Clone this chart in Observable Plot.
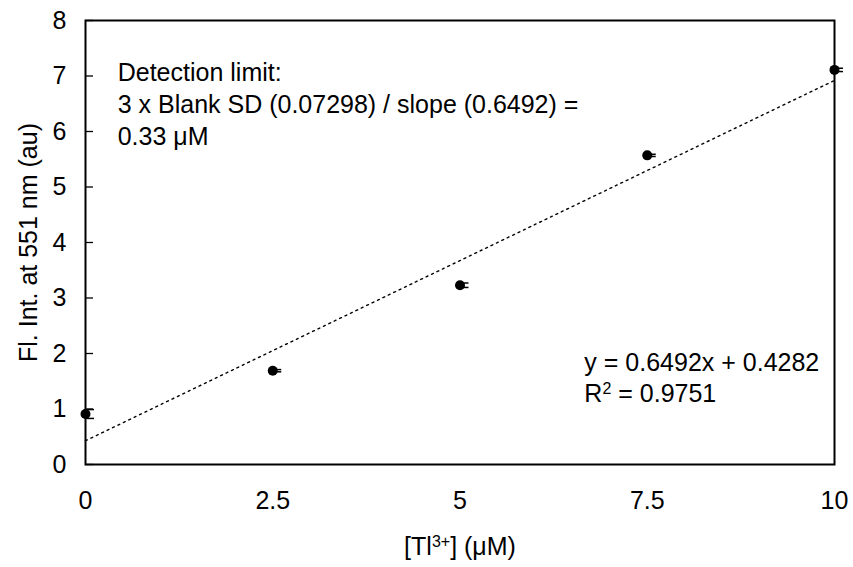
<!DOCTYPE html>
<html><head><meta charset="utf-8">
<script src="https://cdn.jsdelivr.net/npm/d3@7"></script>
<script src="https://cdn.jsdelivr.net/npm/@observablehq/plot@0.6"></script>
<style>
body{margin:0;background:#fff;}
svg{font-family:"Liberation Sans", Arial, sans-serif;}
</style>
</head><body><div id="chart"></div>
<script>
// ---- data ----
const concentrations = [0, 2.5, 5, 7.5, 10];
const intensities = [0.91, 1.69, 3.23, 5.57, 7.11];
const errors = [0.08, 0.02, 0.04, 0.02, 0.03];
const fitSlope = 0.6492;
const fitIntercept = 0.4282;
const xTicks = [0, 2.5, 5, 7.5, 10];
const yTicks = [0, 1, 2, 3, 4, 5, 6, 7, 8];
const xLabel = "[Tl3+] (μM)";
const yLabel = "Fl. Int. at 551 nm (au)";
const detectionNote = ["Detection limit:", "3 x Blank SD (0.07298) / slope (0.6492) =", "0.33 μM"];
const equationNote = ["y = 0.6492x + 0.4282", "R2 = 0.9751"];

// ---- derived tables ----
const points = concentrations.map((x, i) => ({x, y: intensities[i], e: errors[i]}));
const capLen = 0.12;
const fitLine = [0, 10].map(x => ({x, y: fitSlope * x + fitIntercept}));
const notes = [
  {x: 0.43, y: 6.51, text: detectionNote.join("\n")},
  {x: 6.66, y: 1.59, text: equationNote.join("\n")}
];
const FS = 25;

const chart = Plot.plot({
  width: 853,
  height: 567,
  marginLeft: 85,
  marginRight: 19,
  marginTop: 20,
  marginBottom: 103,
  style: {fontSize: FS + "px", fontFamily: "Liberation Sans, Arial, sans-serif", color: "black", background: "white"},
  x: {domain: [0, 10]},
  y: {domain: [0, 8]},
  marks: [
    Plot.axisX({ticks: xTicks, tickSize: 0, tickPadding: 27, tickFormat: d => String(d), fontSize: FS,
      label: xLabel, labelAnchor: "center", labelOffset: 90, labelArrow: "none"}),
    Plot.axisY({ticks: yTicks, tickSize: -8, tickPadding: 27, tickFormat: d => String(d), fontSize: FS,
      label: yLabel, labelAnchor: "center", labelOffset: 66, labelArrow: "none", strokeWidth: 1.3}),
    Plot.line(fitLine, {x: "x", y: "y", stroke: "black", strokeWidth: 1.4, strokeDasharray: "2,4"}),
    Plot.ruleX(points, {x: "x", y1: d => d.y - d.e, y2: d => d.y + d.e, stroke: "black", strokeWidth: 1.3}),
    Plot.ruleY(points, {y: d => d.y - d.e, x1: "x", x2: d => d.x + capLen, stroke: "black", strokeWidth: 1.5}),
    Plot.ruleY(points, {y: d => d.y + d.e, x1: "x", x2: d => d.x + capLen, stroke: "black", strokeWidth: 1.5}),
    Plot.dot(points, {x: "x", y: "y", r: 5, fill: "black", stroke: "none"}),
    Plot.text(notes, {x: "x", y: "y", text: "text", textAnchor: "start", lineAnchor: "middle", lineHeight: 1.28, fontSize: FS, fill: "black"}),
    Plot.frame({stroke: "black", strokeWidth: 2})
  ]
});

document.getElementById("chart").appendChild(chart);

// superscripts
function supify(el, base, sup, rest, size) {
  const node = d3.select(el);
  node.text(null);
  node.append("tspan").text(base);
  node.append("tspan").attr("baseline-shift", "super").attr("font-size", size).text(sup);
  node.append("tspan").text(rest);
}
d3.select(chart).selectAll("text, tspan").each(function() {
  if (this.childElementCount) return;
  const t = this.textContent;
  if (t === xLabel) supify(this, "[Tl", "3+", "] (μM)", "16px");
  else if (t === "R2 = 0.9751") supify(this, "R", "2", " = 0.9751", "16px");
});
</script>
</body></html>
